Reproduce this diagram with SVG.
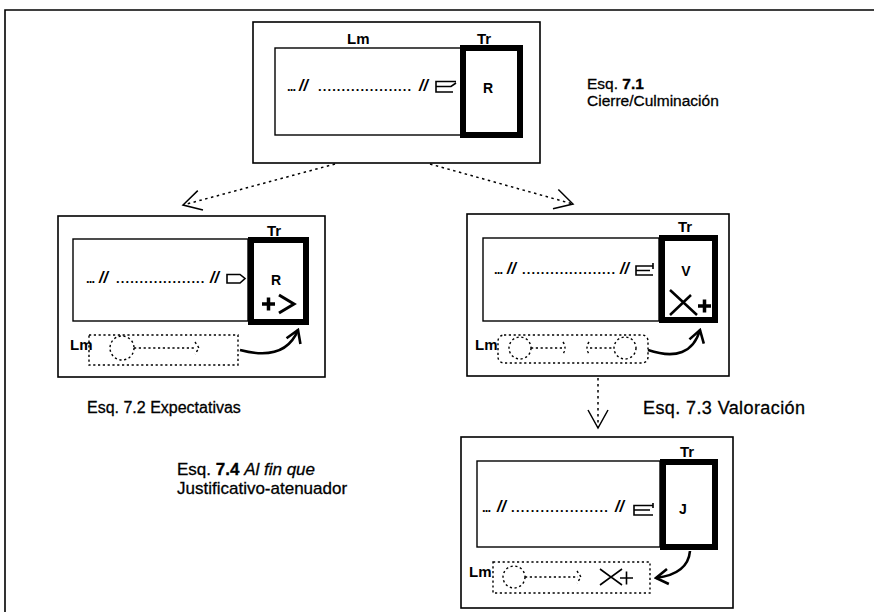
<svg xmlns="http://www.w3.org/2000/svg" width="874" height="612" viewBox="0 0 874 612">
<style>
.frame{fill:none;stroke:#000;stroke-width:1.6}
.box{fill:none;stroke:#000;stroke-width:1.6}
.inner{fill:none;stroke:#000;stroke-width:1.4}
.tr{fill:none;stroke:#000;stroke-width:6}
.lmbox{fill:none;stroke:#000;stroke-width:1.4;stroke-dasharray:2.2 2.6}
.dsh{fill:none;stroke:#000;stroke-width:1.4;stroke-dasharray:2.2 2.6}
.dot{fill:none;stroke:#000;stroke-width:1.5;stroke-dasharray:2.5 3.5}
.curve{fill:none;stroke:#000;stroke-width:2.6}
.icon{fill:none;stroke:#000;stroke-width:1.6}
.sym{fill:none;stroke:#000;stroke-linecap:butt}
.lab{font-family:"Liberation Sans",Arial,sans-serif;font-weight:bold;font-size:15px;fill:#000}
.let{font-family:"Liberation Sans",Arial,sans-serif;font-weight:bold;font-size:14px;fill:#000;text-anchor:middle}
.row{font-family:"Liberation Sans",Arial,sans-serif;font-weight:bold;font-size:13px;fill:#000}
.sl{font-style:italic;font-size:16px}
.cap{font-family:"Liberation Sans",Arial,sans-serif;font-size:16px;fill:#000;stroke:#000;stroke-width:0.3}
.cap1{font-family:"Liberation Sans",Arial,sans-serif;font-size:15.5px;fill:#000;stroke:#000;stroke-width:0.3}
.cap3{font-family:"Liberation Sans",Arial,sans-serif;font-size:18px;letter-spacing:0.4px;fill:#000;stroke:#000;stroke-width:0.3}
.cap2{font-family:"Liberation Sans",Arial,sans-serif;font-size:17px;fill:#000;stroke:#000;stroke-width:0.3}
</style>
<defs>
<marker id="ah" viewBox="0 0 22 22" refX="20" refY="11" markerWidth="22" markerHeight="22" markerUnits="userSpaceOnUse" orient="auto"><path d="M2,1 L20,11 L2,21" fill="none" stroke="#000" stroke-width="1.5"/></marker>
<marker id="ahc" viewBox="0 0 16 20" refX="14" refY="10" markerWidth="16" markerHeight="20" markerUnits="userSpaceOnUse" orient="auto"><path d="M2,2.5 L14,10 L2,17.5" fill="none" stroke="#000" stroke-width="2.6"/></marker>
</defs>
<rect width="874" height="612" fill="#fff"/>
<path class="frame" d="M5,612 V10 H874"/>

<g id="esq71">
<rect class="box" x="253" y="22" width="287" height="141"/>
<rect class="inner" x="275" y="48" width="187" height="87"/>
<rect class="tr" x="463" y="48" width="57" height="87"/>
<text class="lab" x="347" y="44">Lm</text>
<text class="lab" x="477" y="44">Tr</text>
<text class="let" x="488" y="93">R</text>
<text class="row" y="91"><tspan x="287" letter-spacing="-0.8">...</tspan><tspan x="299" class="sl">//</tspan><tspan x="318" letter-spacing="1.1">....................</tspan><tspan x="419" class="sl">//</tspan></text>
<path class="icon" d="M456,81.5 H436 V92 H453 M436,86.5 H451 L456,83"/>
</g>
<text class="cap1" x="587" y="89">Esq. <tspan font-weight="bold">7.1</tspan></text>
<text class="cap1" x="587" y="106">Cierre/Culminación</text>

<g id="esq72">
<rect class="box" x="58" y="216" width="267" height="161"/>
<rect class="inner" x="73" y="239" width="175" height="82"/>
<rect class="tr" x="251" y="240" width="55" height="82"/>
<text class="lab" x="267" y="236">Tr</text>
<text class="let" x="276" y="285">R</text>
<path class="sym" stroke-width="3.5" d="M262,304 H275 M268.5,297.5 V310.5"/>
<path class="sym" stroke-width="3" d="M279,295 L294,304 L279,313"/>
<text class="row" y="283"><tspan x="86" letter-spacing="-0.8">...</tspan><tspan x="99" class="sl">//</tspan><tspan x="116" letter-spacing="1.1">...................</tspan><tspan x="210" class="sl">//</tspan></text>
<path class="icon" d="M227,274.5 H240 L245,278.5 L240,283 H227 Z"/>
<rect class="lmbox" x="89" y="335" width="149" height="30"/>
<text class="lab" x="70" y="350">Lm</text>
<circle class="dsh" cx="122" cy="348" r="12"/>
<path class="dsh" d="M134,348 H196 M195,342 L199,348 L195,354"/>
</g>
<text class="cap" x="87" y="413">Esq. 7.2 Expectativas</text>

<g id="esq73">
<rect class="box" x="467" y="214" width="262" height="162"/>
<rect class="inner" x="483" y="238" width="176" height="83"/>
<rect class="tr" x="662" y="238" width="53" height="82"/>
<text class="lab" x="678" y="232">Tr</text>
<text class="let" x="686" y="276">V</text>
<path class="sym" stroke-width="2.5" d="M670,290 L697,315 M670,315 L691,295"/>
<path class="sym" stroke-width="3.5" d="M698,306 H711 M704.5,299.5 V312.5"/>
<text class="row" y="274"><tspan x="494" letter-spacing="-0.8">...</tspan><tspan x="507" class="sl">//</tspan><tspan x="522" letter-spacing="1.1">....................</tspan><tspan x="620" class="sl">//</tspan></text>
<path class="icon" d="M653,266 H636 V275 H653 M636,270.5 H650 M653,263 V269"/>
<rect class="lmbox" x="498" y="335" width="150" height="28" rx="6"/>
<text class="lab" x="475" y="350">Lm</text>
<circle class="dsh" cx="520" cy="348" r="11"/>
<path class="dsh" d="M531,348 H563 M563,342 Q567,348 563,354"/>
<path class="dsh" d="M589,342 Q585,348 589,354 M590,348 H614"/>
<circle class="dsh" cx="625" cy="348" r="11"/>
</g>
<text class="cap3" x="643" y="414">Esq. 7.3 Valoración</text>

<g id="esq74">
<rect class="box" x="461" y="437" width="272" height="171"/>
<rect class="inner" x="477" y="461" width="183" height="86"/>
<rect class="tr" x="663" y="462" width="52" height="85"/>
<text class="lab" x="680" y="457">Tr</text>
<text class="let" x="683" y="514">J</text>
<text class="row" y="512"><tspan x="482" letter-spacing="-0.8">...</tspan><tspan x="497" class="sl">//</tspan><tspan x="511" letter-spacing="1.3">....................</tspan><tspan x="615" class="sl">//</tspan></text>
<path class="icon" d="M653,505.5 H634 V515 H653 M634,510 H650 M653,503 V508"/>
<rect class="lmbox" x="493" y="562" width="157" height="31"/>
<text class="lab" x="469" y="577">Lm</text>
<circle class="dsh" cx="514" cy="577" r="11"/>
<path class="dsh" d="M525,577 H578 M577,571 L581,577 L577,583"/>
<path class="sym" stroke-width="1.6" d="M600,569 L611,577 L600,585 M622,569 L611,577 L622,585 M620,578 H633 M626.5,571.5 V584.5"/>
</g>
<text class="cap2" x="177" y="475">Esq. <tspan font-weight="bold">7.4</tspan> <tspan font-style="italic">Al fin que</tspan></text>
<text class="cap2" x="177" y="494">Justificativo-atenuador</text>

<g id="connectors">
<path class="dot" d="M335,164 L183,205" marker-end="url(#ah)"/>
<path class="dot" d="M430,164 L573,204" marker-end="url(#ah)"/>
<path class="dot" d="M598,378 V428" marker-end="url(#ah)"/>
<path class="curve" d="M240,350 Q285,362 298,330" marker-end="url(#ahc)"/>
<path class="curve" d="M648,350 Q690,364 700,330" marker-end="url(#ahc)"/>
<path class="curve" d="M690,551 Q688,574 656,578" marker-end="url(#ahc)"/>
</g>
</svg>
